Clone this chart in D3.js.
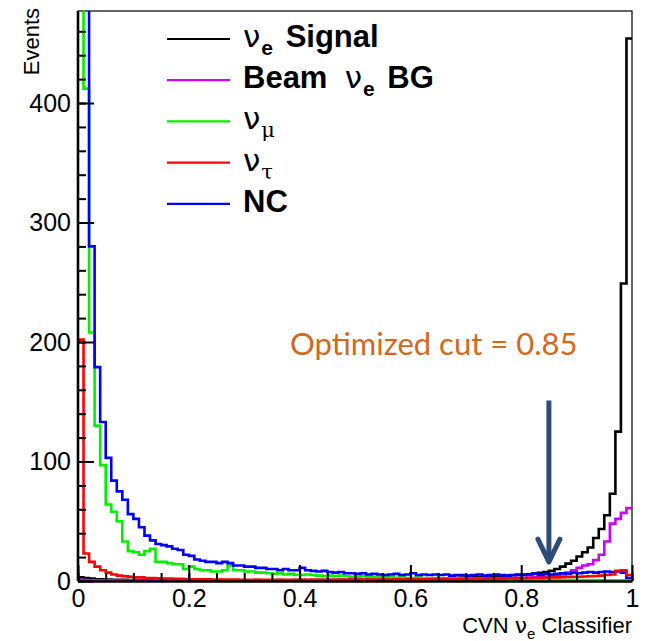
<!DOCTYPE html>
<html>
<head>
<meta charset="utf-8">
<script src="https://cdn.jsdelivr.net/npm/d3@7/dist/d3.min.js"></script>
<style>
  body { margin: 0; background: #fff; }
  svg { display: block; }
</style>
</head>
<body>
<div id="chart"></div>
<script>
// histogram contents, 100 bins over CVN nue classifier [0, 1]
var nBins = 100;

var nueSignal = [
  3, 2.5, 2, 1.5, 1.5, 1.2, 1, 1, 1, 0.9,
  0.9, 0.8, 0.9, 0.7, 0.8, 0.6, 0.8, 0.7, 0.6, 0.7,
  0.6, 0.7, 0.6, 0.5, 0.6, 0.7, 0.5, 0.6, 0.5, 0.6,
  0.6, 0.5, 0.7, 0.6, 0.5, 0.6, 0.7, 0.6, 0.6, 0.7,
  0.7, 0.6, 0.8, 0.7, 0.8, 0.7, 0.9, 0.8, 0.9, 1.0,
  0.9, 1.0, 1.1, 1.0, 1.2, 1.1, 1.3, 1.2, 1.4, 1.5,
  1.5, 1.6, 1.8, 1.7, 2.0, 2.1, 2.2, 2.4, 2.6, 2.8,
  3.0, 3.2, 3.4, 3.5, 3.8, 4.0, 4.2, 4.5, 4.8, 5.0,
  5.3, 5.7, 6.2, 6.8, 7.5, 8.5, 10, 12, 14.5, 17,
  20.5, 24, 28, 36, 43.5, 55, 73, 125, 249, 454
];

var beamNueBG = [
  1.0, 0.8, 0.6, 0.5, 0.5, 0.5, 0.4, 0.4, 0.4, 0.4,
  0.4, 0.3, 0.4, 0.3, 0.3, 0.4, 0.3, 0.3, 0.3, 0.3,
  0.3, 0.3, 0.4, 0.3, 0.3, 0.3, 0.4, 0.3, 0.4, 0.4,
  0.4, 0.4, 0.5, 0.4, 0.5, 0.5, 0.5, 0.6, 0.5, 0.6,
  0.6, 0.7, 0.6, 0.7, 0.8, 0.7, 0.8, 0.9, 0.8, 1.0,
  1.0, 1.1, 1.0, 1.2, 1.1, 1.3, 1.4, 1.3, 1.5, 1.6,
  1.6, 1.7, 1.8, 1.7, 1.9, 2.0, 1.9, 2.1, 2.0, 2.2,
  2.1, 2.3, 2.2, 2.4, 2.3, 2.5, 2.4, 2.6, 2.5, 2.7,
  2.6, 2.8, 3.0, 3.2, 3.5, 4.0, 4.5, 5.5, 7.0, 9.0,
  11, 13, 14, 17.5, 22, 33, 48, 52, 57, 61
];

var numuBG = [
  700, 412, 208, 130, 97, 64, 58, 50, 33, 25,
  24, 22, 25, 27, 16, 16, 15, 14, 14, 10,
  12, 10, 9, 9, 8, 8, 9, 13, 9, 9,
  8, 8, 7, 7, 6.5, 6, 6.5, 5.5, 6, 5,
  5, 5.5, 5, 4.5, 4, 4.5, 4, 4.5, 4, 3.5,
  3.5, 4, 3.5, 3, 3.5, 3, 3, 2.5, 3, 2.5,
  2.5, 3, 2.5, 2, 2.5, 2, 2, 2.5, 2, 2,
  2, 1.5, 2, 1.5, 1.5, 2, 1.5, 1.5, 1, 1.5,
  1, 1.5, 1, 1, 1, 0.8, 1, 0.8, 0.8, 1,
  0.8, 0.8, 0.6, 0.8, 0.6, 0.5, 0.6, 0.5, 0.5, 0.4
];

var nutauBG = [
  202, 23, 16, 12, 9, 7, 5.5, 4.5, 4, 3.5,
  3, 3, 2.5, 2.5, 2.2, 2, 2, 1.8, 1.8, 1.6,
  1.5, 1.5, 1.4, 1.4, 1.3, 1.3, 1.2, 1.2, 1.2, 1.1,
  1.1, 1.0, 1.1, 1.0, 1.0, 1.1, 1.0, 1.0, 1.1, 1.0,
  1.0, 1.1, 1.0, 1.1, 1.1, 1.0, 1.1, 1.2, 1.1, 1.2,
  1.2, 1.1, 1.2, 1.3, 1.2, 1.3, 1.3, 1.4, 1.3, 1.4,
  1.4, 1.5, 1.4, 1.5, 1.6, 1.5, 1.6, 1.7, 1.6, 1.7,
  1.8, 1.7, 1.8, 1.9, 1.9, 2.0, 2.0, 2.1, 2.2, 2.2,
  2.3, 2.4, 2.5, 2.6, 2.7, 2.9, 3.0, 3.2, 3.3, 3.5,
  3.6, 3.8, 4.0, 4.2, 4.5, 5.0, 5.5, 8.5, 9.0, 5.0
];

var ncBG = [
  900, 620, 280, 179, 133, 103, 84, 75, 68, 56,
  52, 45, 38, 34, 31, 30, 29, 27, 26, 22,
  21, 18, 17, 16, 16, 15, 16, 15, 13, 13,
  12, 12, 11, 11, 10, 10, 9, 10, 9, 9,
  11, 9, 8.5, 8, 8.5, 7.5, 7, 7.5, 6.5, 6.5,
  6, 6.5, 5.5, 6, 5.5, 5, 5.5, 6, 5, 5.5,
  6.5, 5, 5.5, 5, 5.5, 5, 5.5, 4.5, 5, 5,
  4.5, 5, 5.5, 4.5, 5, 5.5, 5, 4.5, 5, 5.5,
  5, 5.5, 6, 5, 6, 5.5, 6, 6.5, 6, 7,
  6.5, 7, 7.5, 7, 7.5, 8, 7.5, 8, 7, 2.5
];

// legend labels: prefix, neutrino flavour subscript, suffix
var seriesKeys = ["signal", "beam", "numu", "nutau", "nc"];
var seriesPrefix = ["", "Beam  ", "", "", ""];
var seriesFlavour = ["e", "e", "μ", "τ", ""];
var seriesSuffix = [" Signal", " BG", "", "", "NC"];
var seriesColors = ["#000000", "#cc00ff", "#00f000", "#ff0000", "#0000ff"];

var xTicks = [0, 0.2, 0.4, 0.6, 0.8, 1];
var yTicks = [0, 100, 200, 300, 400];
var yMax = 477;
var cutValue = 0.85;
var cutLabel = "Optimized cut = 0.85";

//************************************************************************************************************
// Setup
//************************************************************************************************************
var width = 645, height = 641;
var margins = {left: 78, right: 13, top: 11, bottom: 60};

var svg = d3.select("#chart").append("svg")
    .attr("width", width)
    .attr("height", height)
    .style("font-family", "'Liberation Sans', Arial, sans-serif");

var x = d3.scaleLinear().domain([0, 1]).range([margins.left, width - margins.right]);
var y = d3.scaleLinear().domain([0, yMax]).range([height - margins.bottom, margins.top]);
var color = d3.scaleOrdinal(seriesKeys, seriesColors);

svg.append("defs").append("clipPath").attr("id", "frame-clip")
  .append("rect")
    .attr("x", x(0)).attr("y", y(yMax))
    .attr("width", x(1) - x(0)).attr("height", y(0) - y(yMax));

// frame
svg.append("rect")
    .attr("x", x(0)).attr("y", y(yMax))
    .attr("width", x(1) - x(0)).attr("height", y(0) - y(yMax))
    .attr("fill", "none").attr("stroke", "#000").attr("stroke-width", 1.2);

//************************************************************************************************************
// Histograms
//************************************************************************************************************
var seriesValues = [nueSignal, beamNueBG, numuBG, nutauBG, ncBG];
var drawOrder = [0, 1, 2, 4, 3];

var stepLine = d3.line()
    .x(function(d) { return x(d[0]); })
    .y(function(d) { return y(d[1]); })
    .curve(d3.curveStepAfter);

var histG = svg.append("g").attr("clip-path", "url(#frame-clip)");
drawOrder.forEach(function(s) {
    var vals = seriesValues[s];
    var pts = vals.map(function(v, i) { return [i / nBins, v]; });
    pts.push([1, vals[vals.length - 1]]);
    histG.append("path")
        .attr("d", stepLine(pts))
        .attr("fill", "none")
        .attr("stroke", color(seriesKeys[s]))
        .attr("stroke-width", 2.6);
});

//************************************************************************************************************
// Axes
//************************************************************************************************************
function styleAxis(g, fontSize) {
    g.select(".domain").attr("stroke-width", 2.6);
    g.selectAll(".tick line").attr("stroke-width", 2);
    g.selectAll(".tick text")
        .attr("fill", "#000")
        .style("font-size", fontSize + "px")
        .style("font-family", "'Liberation Sans', Arial, sans-serif");
}

// y minor ticks
svg.append("g")
    .attr("transform", "translate(" + x(0) + ",0)")
    .call(d3.axisLeft(y).tickValues(d3.range(0, yMax, 20)).tickSize(-8).tickSizeOuter(0).tickFormat(""))
    .call(function(g) { g.select(".domain").remove(); g.selectAll(".tick line").attr("stroke-width", 2); });

var yAxisG = svg.append("g")
    .attr("transform", "translate(" + x(0) + ",0)")
    .call(d3.axisLeft(y).tickValues(yTicks).tickSize(-16).tickSizeOuter(0).tickPadding(7));
yAxisG.select(".domain").attr("d", "M0," + y(0) + "V" + y(yMax));
styleAxis(yAxisG, 25);

// x minor ticks
svg.append("g")
    .attr("transform", "translate(0," + y(0) + ")")
    .call(d3.axisBottom(x).tickValues(d3.range(0, 1.0001, 0.05)).tickSize(-8).tickSizeOuter(0).tickFormat(""))
    .call(function(g) { g.select(".domain").remove(); g.selectAll(".tick line").attr("stroke-width", 2); });

var xAxisG = svg.append("g")
    .attr("transform", "translate(0," + y(0) + ")")
    .call(d3.axisBottom(x).tickValues(xTicks).tickSize(-16).tickSizeOuter(0).tickPadding(8)
        .tickFormat(function(d) { return (d === 0 || d === 1) ? String(d) : d3.format(".1f")(d); }));
styleAxis(xAxisG, 25);

// axis titles
svg.append("text")
    .attr("transform", "translate(39," + (margins.top - 3) + ") rotate(-90)")
    .attr("text-anchor", "end")
    .style("font-size", "22px")
    .text("Events");

var xTitle = svg.append("text")
    .attr("x", x(1))
    .attr("y", height - 8)
    .attr("text-anchor", "end")
    .style("font-size", "22px");
xTitle.append("tspan").text("CVN ");
xTitle.append("tspan").style("font-family", "'DejaVu Sans', sans-serif").text("ν");
xTitle.append("tspan").attr("dy", 6).style("font-size", "15px").text("e");
xTitle.append("tspan").attr("dy", -6).text(" Classifier");

//************************************************************************************************************
// Legend
//************************************************************************************************************
var legendX = 167, legendY = 39, legendStep = 41.2;
var legend = svg.append("g");
seriesKeys.forEach(function(key, i) {
    var ly = legendY + i * legendStep;
    legend.append("line")
        .attr("x1", legendX).attr("x2", legendX + 63)
        .attr("y1", ly).attr("y2", ly)
        .attr("stroke", color(key)).attr("stroke-width", 2.2);
    var t = legend.append("text")
        .attr("x", legendX + 76)
        .attr("y", ly + 8)
        .attr("xml:space", "preserve")
        .style("font-size", "31px")
        .style("font-weight", "bold");
    if (seriesPrefix[i]) { t.append("tspan").text(seriesPrefix[i]); }
    var shifted = false;
    if (seriesFlavour[i]) {
        var greekSub = /[^a-z]/.test(seriesFlavour[i]);
        t.append("tspan")
            .style("font-weight", "normal")
            .style("font-family", "'DejaVu Sans', sans-serif")
            .text("ν");
        t.append("tspan")
            .attr("dx", 1)
            .attr("dy", 8)
            .style("font-size", "21px")
            .style("font-weight", greekSub ? "normal" : "bold")
            .style("font-family", greekSub ? "'DejaVu Serif', serif" : null)
            .text(seriesFlavour[i]);
        shifted = true;
    }
    if (seriesSuffix[i]) {
        t.append("tspan").attr("dx", shifted ? 4 : null).attr("dy", shifted ? -8 : null).text(seriesSuffix[i]);
    }
});

//************************************************************************************************************
// Cut annotation
//************************************************************************************************************
svg.append("text")
    .attr("x", 290)
    .attr("y", 355)
    .attr("fill", "#d2691e")
    .style("font-family", "Lato, 'Open Sans', sans-serif")
    .style("font-size", "31px")
    .text(cutLabel);

var arrowColor = "#2e4c7a";
var ax = x(cutValue);
svg.append("line")
    .attr("x1", ax).attr("x2", ax)
    .attr("y1", y(151)).attr("y2", y(20))
    .attr("stroke", arrowColor).attr("stroke-width", 5);
svg.append("path")
    .attr("d", "M" + (ax - 11) + "," + y(35) + "L" + ax + "," + y(16) + "L" + (ax + 11) + "," + y(35))
    .attr("fill", "none")
    .attr("stroke", arrowColor).attr("stroke-width", 5)
    .attr("stroke-linecap", "round").attr("stroke-linejoin", "round");
</script>
</body>
</html>
